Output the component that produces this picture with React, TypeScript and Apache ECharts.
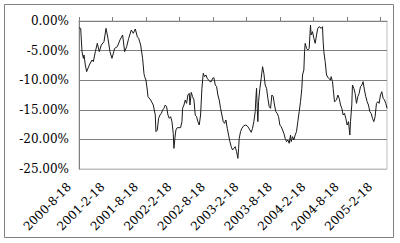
import React, { useEffect, useRef } from "react";
import * as echarts from "echarts";

// Months elapsed since 2000-8-18 for each observation
const monthsSinceStart = [
  0, 0.3, 0.54, 0.78, 0.9, 1.13, 1.37, 1.85, 2.33, 2.57, 2.93, 3.28, 3.64, 4.0, 4.48, 4.84, 5.19, 5.55, 5.91, 6.39,
  6.87, 7.34, 7.82, 8.18, 8.54, 8.9, 9.37, 9.73, 10.09, 10.45, 10.69, 11.05, 11.4, 11.64, 11.76, 12.0, 12.24, 12.36,
  12.84, 13.31, 13.67, 13.79,
  14.03, 14.27, 14.51, 14.75, 14.98, 15.22, 15.46, 15.7, 15.94, 16.18, 16.42, 16.66, 16.89, 17.01, 17.25, 17.37, 17.61,
  18.21, 18.45, 18.57, 18.81, 19.04, 19.28, 19.52, 19.76, 19.88, 20.12, 20.36, 20.6, 20.83, 21.07, 21.31, 21.55, 21.79,
  22.03, 22.27, 22.51, 22.75, 22.98, 23.22, 23.46, 23.7, 23.94, 24.18, 24.42, 24.66, 24.89, 25.13, 25.37, 25.61, 25.85,
  26.09, 26.33, 26.57, 26.81, 27.04, 27.28, 27.52,
  27.76, 28.0, 28.24, 28.48, 28.6, 28.72, 28.95, 29.19, 29.55, 29.91, 30.27, 30.63, 30.86, 31.1, 31.34, 31.58, 31.7,
  31.82, 31.94, 32.06, 32.18, 32.42, 32.66, 32.9, 33.13, 33.37, 33.61, 33.85, 34.09, 34.33, 34.57, 34.81, 35.04, 35.28,
  35.52, 35.76, 36.0, 36.24, 36.48, 36.72, 36.95, 37.19, 37.43, 37.67, 37.91, 38.03, 38.27, 38.51, 38.74, 38.98, 39.22,
  39.46, 39.7, 39.94, 40.06, 40.3, 40.42, 40.54, 40.78, 41.01, 41.25, 41.37, 41.49,
  41.61, 41.85, 42.09, 42.33, 42.57, 42.8, 43.04, 43.4, 43.64, 43.76, 43.88, 44.12, 44.36, 44.72, 45.07, 45.19, 45.43,
  45.55, 45.79, 46.15, 46.39, 46.63, 46.87, 47.1, 47.34, 47.58, 47.82, 48.06, 48.3, 48.54, 48.66, 48.89, 49.01, 49.25,
  49.49, 49.73, 49.97, 50.21, 50.45, 50.69, 50.92, 51.16, 51.4, 51.64, 51.88, 52.12, 52.36, 52.6, 52.83, 53.07, 53.31,
  53.55, 53.79, 54.03, 54.27, 54.51, 54.75, 54.98, 55.2,
];

// Drawdown (%) for each observation
const drawdownPct = [
  -1.13, -1.24, -5.18, -6.31, -5.74, -7.43, -8.56, -7.43, -6.59, -6.87, -5.18, -3.77, -5.18, -4.05, -3.49, -1.24, -2.93,
  -5.18, -6.31, -4.62, -4.34, -3.21, -2.36, -5.18, -4.34, -2.93, -1.52, -2.08, -1.35, -2.65, -2.93, -4.05, -6.31, -8.84,
  -9.4, -9.97, -11.66, -12.78, -13.34, -14.19, -15.88, -18.69,
  -18.41, -16.44, -15.88, -15.6, -15.03, -14.75, -14.19, -14.47, -15.88, -16.44, -16.16, -17.0, -18.98, -21.51, -19.26,
  -18.41, -18.02, -18.02, -17.0, -14.75, -14.19, -13.34, -13.91, -12.5, -12.22, -14.19, -12.05, -12.78, -13.34, -15.88,
  -16.16, -17.0, -17.57, -15.88, -11.37, -8.84, -9.4, -9.12, -9.68, -9.97, -10.25, -10.25, -9.68, -9.57, -10.81, -11.09,
  -12.5, -13.34, -14.75, -15.88, -17.0, -17.29, -16.72, -18.13, -19.26, -20.38, -21.23, -21.79,
  -21.51, -21.23, -22.07, -23.2, -21.51, -19.82, -18.69, -18.13, -17.68, -17.57, -17.85, -18.41, -18.81, -18.13, -17.0,
  -15.32, -13.06, -11.37, -14.75, -17.0, -13.63, -11.37, -9.68, -7.71, -8.84, -10.81, -11.37, -13.06, -14.47, -14.75,
  -12.5, -12.78, -14.19, -15.32, -15.6, -16.16, -17.57, -17.85, -18.41, -18.98, -19.82, -20.38, -20.1, -20.66, -19.26,
  -20.38, -19.54, -20.1, -19.26, -18.69, -17.0, -15.32, -13.63, -11.37, -9.12, -8.28, -5.18, -3.77, -4.62, -4.9, -4.62,
  -2.65, -0.68,
  -2.36, -1.8, -2.93, -3.77, -2.36, -1.24, -0.96, -1.24, -0.96, -3.49, -5.18, -6.87, -9.12, -9.68, -9.97, -9.4, -10.25,
  -11.37, -13.63, -13.34, -12.5, -13.06, -14.19, -14.75, -15.88, -15.6, -16.44, -17.57, -17.0, -19.26, -17.0, -14.19,
  -10.81, -11.37, -12.22, -13.91, -12.78, -12.22, -11.09, -10.81, -10.25, -11.66, -12.78, -13.63, -14.19, -15.32, -15.6,
  -16.44, -17.0, -16.16, -13.91, -13.63, -13.91, -12.5, -11.94, -13.06, -13.34, -13.91, -14.75,
];

const tickLabels = [
  "2000-8-18", "2001-2-18", "2001-8-18", "2002-2-18", "2002-8-18",
  "2003-2-18", "2003-8-18", "2004-2-18", "2004-8-18", "2005-2-18",
];
const tickMonths = [0, 6, 12, 18, 24, 30, 36, 42, 48, 54];
const xMax = 55.2;
const yMin = -25;
const yMax = 0;
const yStep = 5;

export default function App() {
  const ref = useRef<HTMLDivElement>(null);
  useEffect(() => {
    const chart = echarts.init(ref.current!, null, { renderer: "svg" });
    const font = '"DejaVu Serif", serif';
    const data = monthsSinceStart.map((m, i) => [m, drawdownPct[i]]);
    const labelFor = (v: number) => {
      const idx = Math.round(v / 6);
      if (Math.abs(v - idx * 6) > 0.01) return "";
      return tickLabels[idx] ?? "";
    };
    chart.setOption({
      animation: false,
      backgroundColor: "#ffffff",
      graphic: [
        {
          type: "rect",
          silent: true,
          shape: { x: 4.5, y: 4.5, width: 389, height: 233 },
          style: { fill: "none", stroke: "#808080", lineWidth: 1 },
        },
      ],
      grid: {
        left: 79,
        top: 21,
        right: 13,
        bottom: 74,
        show: true,
        borderColor: "#c0c0c0",
        borderWidth: 1,
        backgroundColor: "transparent",
      },
      xAxis: [
        {
          type: "value",
          position: "top",
          min: 0,
          max: xMax,
          interval: 6,
          axisLine: { show: true, lineStyle: { color: "#808080", width: 1 } },
          axisTick: {
            show: true,
            length: 4,
            inside: false,
            customValues: tickMonths,
            lineStyle: { color: "#808080" },
          },
          axisLabel: { show: false },
          splitLine: { show: false },
        },
        {
          type: "value",
          position: "bottom",
          min: 0,
          max: xMax,
          interval: 6,
          axisLine: { show: false },
          axisTick: { show: false },
          splitLine: { show: false },
          axisLabel: {
            customValues: tickMonths,
            rotate: 45,
            margin: 6,
            padding: [0, 14, 0, 0],
            formatter: (v: number) => labelFor(v),
            fontFamily: font,
            fontSize: 12,
            color: "#000",
          },
        },
      ],
      yAxis: {
        type: "value",
        min: yMin,
        max: yMax,
        interval: yStep,
        axisLine: { show: true, lineStyle: { color: "#808080", width: 1 } },
        axisTick: { show: false },
        splitLine: {
          show: true,
          lineStyle: {
            color: ["#c0c0c0", "#808080", "#808080", "#808080", "#808080", "#808080"],
            width: 1,
          },
        },
        axisLabel: {
          margin: 10,
          padding: [4, 0, 0, 0],
          formatter: (v: number) => (Math.abs(v) < 1e-9 ? 0 : v).toFixed(2) + "%",
          fontFamily: font,
          fontSize: 12,
          color: "#000",
        },
      },
      series: [
        {
          type: "line",
          xAxisIndex: 0,
          data,
          symbol: "none",
          lineStyle: { color: "#1a1a1a", width: 1 },
        },
      ],
    });
    return () => chart.dispose();
  }, []);
  return (
    <div
      ref={ref}
      style={{ position: "fixed", left: 0, top: 0, width: 400, height: 243 }}
    />
  );
}
